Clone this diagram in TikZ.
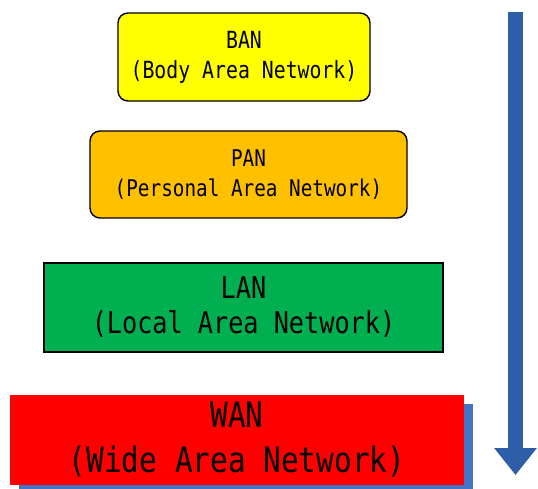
\documentclass[tikz,border=0pt]{standalone}
\usepackage{fontspec}
\usetikzlibrary{arrows.meta,shadows}
\newfontfamily\gothic[FakeStretch=0.84]{DejaVu Sans Mono}
\definecolor{banyellow}{RGB}{255,255,0}
\definecolor{panorange}{RGB}{255,192,0}
\definecolor{langreen}{RGB}{0,176,80}
\definecolor{wanred}{RGB}{255,0,0}
\definecolor{shadowblue}{RGB}{68,114,196}
\definecolor{arrowblue}{RGB}{46,94,168}
\begin{document}
\begin{tikzpicture}[x=1pt,y=-1pt,
  layer/.style={draw=black,line width=1.4pt,align=center,inner sep=0pt},
  roundlayer/.style={layer,rounded corners=10pt}]
\useasboundingbox[fill=white] (0,0) rectangle (538,488);
% network scopes, smallest on top
\node[roundlayer,fill=banyellow,minimum width=252pt,minimum height=88pt,
  font={\gothic\fontsize{23.6}{30}\selectfont}]
  (ban) at (244,57) {BAN\\(Body Area Network)};
\node[roundlayer,fill=panorange,minimum width=317pt,minimum height=87pt,
  font={\gothic\fontsize{23}{30}\selectfont}]
  (pan) at (248.5,174.5) {PAN\\(Personal Area Network)};
\node[layer,fill=langreen,minimum width=399pt,minimum height=89pt,
  font={\gothic\fontsize{30}{35}\selectfont}]
  (lan) at (243.5,307.5) {LAN\\(Local Area Network)};
\node[align=center,inner sep=0pt,fill=wanred,
  font={\gothic\fontsize{35}{45}\selectfont},
  minimum width=454pt,minimum height=90pt,
  drop shadow={shadow xshift=9pt,shadow yshift=-9pt,fill=shadowblue,opacity=1}]
  (wan) at (237,440) {WAN\\(Wide Area Network)};
% direction arrow
\coordinate (atop) at (515.5,12);
\coordinate (abot) at (515.5,475);
\draw[arrowblue,line width=15pt,
  -{Triangle[width=41pt,length=27pt,fill=arrowblue]}] (atop) -- (abot);
\end{tikzpicture}
\end{document}
